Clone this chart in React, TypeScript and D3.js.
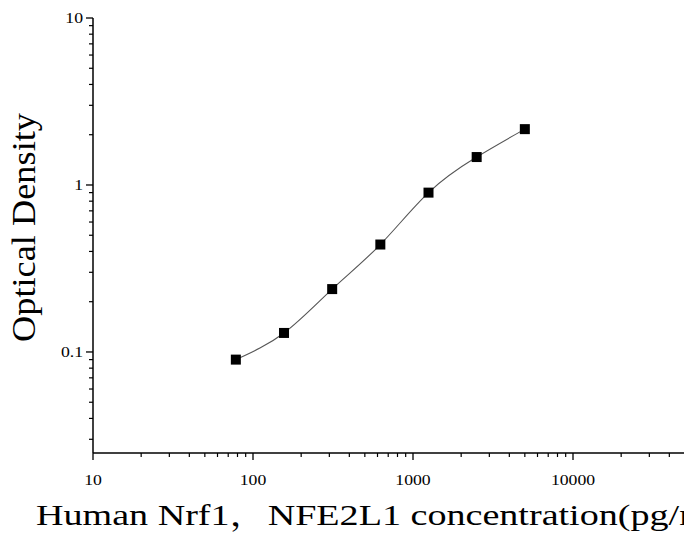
import React from "react";
import * as d3 from "d3";

const concentrations = [78.125, 156.25, 312.5, 625, 1250, 2500, 5000];
const odValues = [0.09, 0.13, 0.238, 0.44, 0.9, 1.47, 2.16];
const xTickValues = [10, 100, 1000, 10000];
const yTickValues = [0.1, 1, 10];
const xTitle = "Human Nrf1，NFE2L1 concentration(pg/ml)";
const yTitle = "Optical Density";

const W = 684;
const H = 535;
const FONT = "'Liberation Serif', 'Times New Roman', 'Noto Serif CJK SC', 'Noto Sans CJK SC', serif";

export default function App() {
  const left = 93;
  const x = d3.scaleLog().domain([10, 10 ** (1 + (700 - 93) / 160)]).range([left, 700]);
  const y = d3.scaleLog().domain([10 ** -1.605, 10]).range([453, 18]);
  const bottom = 453;

  const xMinor: number[] = [];
  for (let e = 1; e <= 4; e++) {
    for (let m = 2; m <= 9; m++) xMinor.push(m * 10 ** e);
  }
  const yMinor: number[] = [];
  for (let e = -2; e <= 0; e++) {
    for (let m = 2; m <= 9; m++) {
      const v = m * 10 ** e;
      if (v >= y.domain()[0] && v <= 10) yMinor.push(v);
    }
  }

  const pts = concentrations.map((c, i) => [x(c), y(odValues[i])] as [number, number]);
  const line = d3.line().curve(d3.curveNatural)(pts) || "";

  return (
    <svg width={W} height={H} style={{ position: "absolute", left: 0, top: 0, background: "#fff" }}>
      <rect width={W} height={H} fill="#fff" />
      {/* axes */}
      <line x1={left} x2={left} y1={y(10)} y2={bottom} stroke="#000" strokeWidth={1.5} />
      <line x1={left} x2={W} y1={bottom} y2={bottom} stroke="#000" strokeWidth={1.5} />
      {xTickValues.map((v) => (
        <g key={"xt" + v}>
          <line x1={x(v)} x2={x(v)} y1={bottom} y2={bottom + 7} stroke="#000" strokeWidth={1.3} />
          <text
            transform={`translate(${x(v)}, ${bottom + 32}) scale(1.18, 1)`}
            textAnchor="middle"
            fontFamily={FONT}
            fontSize={15}
            fill="#000"
          >
            {v}
          </text>
        </g>
      ))}
      {xMinor.map((v) => (
        <line key={"xm" + v} x1={x(v)} x2={x(v)} y1={bottom} y2={bottom + 4} stroke="#000" strokeWidth={1.2} />
      ))}
      {yTickValues.map((v) => (
        <g key={"yt" + v}>
          <line x1={left - 7} x2={left} y1={y(v)} y2={y(v)} stroke="#000" strokeWidth={1.3} />
          <text
            transform={`translate(${left - 10}, ${y(v) + 5}) scale(1.18, 1)`}
            textAnchor="end"
            fontFamily={FONT}
            fontSize={15}
            fill="#000"
          >
            {v}
          </text>
        </g>
      ))}
      {yMinor.map((v) => (
        <line key={"ym" + v} x1={left - 4} x2={left} y1={y(v)} y2={y(v)} stroke="#000" strokeWidth={1.2} />
      ))}
      {/* curve */}
      <path d={line} fill="none" stroke="#555" strokeWidth={1.1} />
      {pts.map(([px, py], i) => (
        <rect key={"p" + i} x={px - 5} y={py - 5} width={10} height={10} fill="#000" />
      ))}
      {/* titles */}
      <text transform="translate(36, 525) scale(1.27, 1)" fontFamily={FONT} fontSize={30} fill="#000">
        {xTitle}
      </text>
      <text
        transform={`translate(35, 227.5) rotate(-90)`}
        textAnchor="middle"
        fontFamily={FONT}
        fontSize={34}
        textLength={229}
        lengthAdjust="spacingAndGlyphs"
        fill="#000"
      >
        {yTitle}
      </text>
    </svg>
  );
}
